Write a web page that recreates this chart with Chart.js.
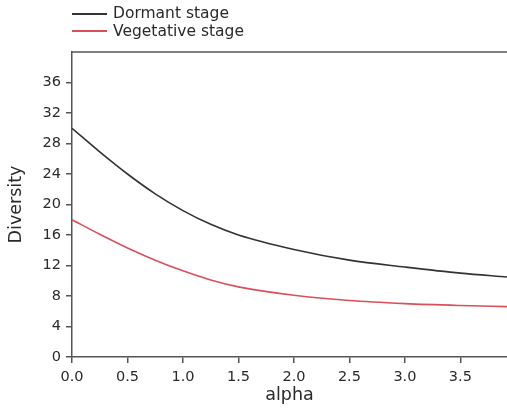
<!DOCTYPE html>
<html>
<head>
<meta charset="utf-8">
<script src="https://cdn.jsdelivr.net/npm/chart.js@4"></script>
<style>
  html, body { margin: 0; padding: 0; background: #fff; }
  #wrap { position: relative; width: 507px; height: 417px; }
  #legend { position: absolute; left: 72px; top: 5px; font-family: "DejaVu Sans", sans-serif; font-size: 15.5px; color: #2a2a2a; line-height: 17.5px; }
  #legend .item { display: flex; align-items: center; }
  #legend .swatch { display: inline-block; width: 35px; height: 2px; margin-right: 6px; }
</style>
</head>
<body>
<div id="wrap">
  <canvas id="chart" width="507" height="417"></canvas>
  <div id="legend"></div>
</div>
<script>
// values
const alphaValues = [0, 0.25, 0.5, 0.75, 1.0, 1.25, 1.5, 2.0, 2.5, 3.0, 3.5, 3.92];
const dormant = [30, 26.9, 24.0, 21.4, 19.2, 17.4, 16.0, 14.1, 12.7, 11.8, 11.0, 10.5];
const vegetative = [18, 16.1, 14.3, 12.7, 11.3, 10.1, 9.2, 8.1, 7.4, 7.0, 6.75, 6.6];
const seriesNames = ["Dormant stage", "Vegetative stage"];
const seriesColors = ["#333333", "#d9505a"];

// tick labels
const xTicks = [0, 0.5, 1.0, 1.5, 2.0, 2.5, 3.0, 3.5];
const yTicks = [0, 4, 8, 12, 16, 20, 24, 28, 32, 36];

const axisColor = "#555";
const textColor = "#2a2a2a";
const tickFont = { family: "DejaVu Sans", size: 14.5 };
const titleFont = { family: "DejaVu Sans", size: 17.5 };

function toPoints(arr) {
    return arr.map((v, i) => ({ x: alphaValues[i], y: v }));
}

// top border of the plot box
const topBorder = {
    id: "topBorder",
    afterDraw(chart) {
        const { ctx, chartArea } = chart;
        ctx.save();
        ctx.strokeStyle = axisColor;
        ctx.lineWidth = 1.5;
        ctx.beginPath();
        ctx.moveTo(chartArea.left, chartArea.top);
        ctx.lineTo(chartArea.right, chartArea.top);
        ctx.stroke();
        ctx.restore();
    }
};

const chart = new Chart(document.getElementById("chart"), {
    type: "line",
    data: {
        datasets: [
            { label: seriesNames[0], data: toPoints(dormant), borderColor: seriesColors[0], borderWidth: 1.6, pointRadius: 0, cubicInterpolationMode: "monotone", fill: false },
            { label: seriesNames[1], data: toPoints(vegetative), borderColor: seriesColors[1], borderWidth: 1.6, pointRadius: 0, cubicInterpolationMode: "monotone", fill: false }
        ]
    },
    options: {
        responsive: false,
        animation: false,
        layout: { padding: { top: 52, right: 0, left: 0, bottom: 0 } },
        plugins: { legend: { display: false }, tooltip: { enabled: false } },
        scales: {
            x: {
                type: "linear",
                min: 0,
                max: 3.92,
                afterBuildTicks: s => { s.ticks = xTicks.map(v => ({ value: v })); },
                afterFit: s => { s.height = 60; },
                ticks: { autoSkip: false, color: textColor, font: tickFont, padding: 6, maxRotation: 0, callback: v => v.toFixed(1) },
                grid: { drawOnChartArea: false, color: axisColor, tickLength: 6, lineWidth: 1.5 },
                border: { color: axisColor, width: 1.5 },
                title: { display: true, text: "alpha", color: textColor, font: titleFont, padding: { top: 0, bottom: 11 } }
            },
            y: {
                min: 0,
                max: 40,
                afterBuildTicks: s => { s.ticks = yTicks.map(v => ({ value: v })); },
                afterFit: s => { s.width = 72; },
                ticks: { autoSkip: false, color: textColor, font: tickFont, padding: 5 },
                grid: { drawOnChartArea: false, color: axisColor, tickLength: 6, lineWidth: 1.5 },
                border: { color: axisColor, width: 1.5 },
                title: { display: true, text: "Diversity", color: textColor, font: titleFont, padding: { top: 6, bottom: 0 } }
            }
        }
    },
    plugins: [topBorder]
});

// legend stacked vertically above the plot
const legendEl = document.getElementById("legend");
chart.data.datasets.forEach(ds => {
    const row = document.createElement("div");
    row.className = "item";
    row.innerHTML = `<span class="swatch" style="background:${ds.borderColor}"></span>${ds.label}`;
    legendEl.appendChild(row);
});
</script>
</body>
</html>
